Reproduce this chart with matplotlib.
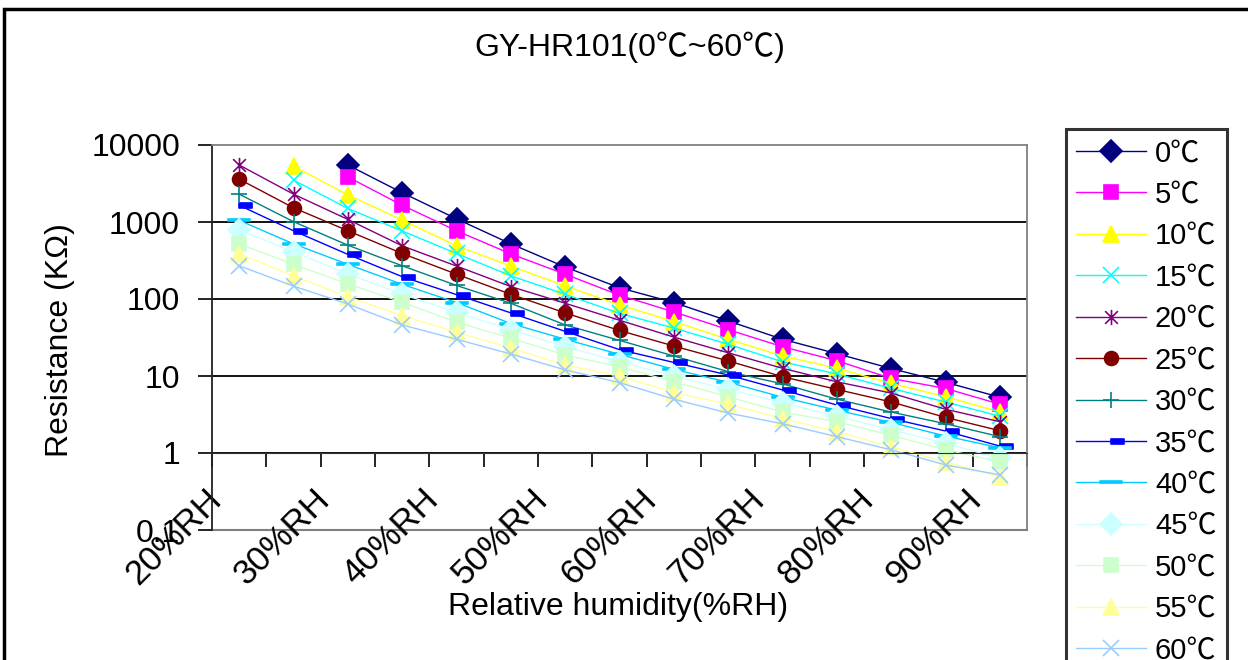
import numpy as np
import matplotlib
matplotlib.use('Agg')
import matplotlib.pyplot as plt
from matplotlib.path import Path
from matplotlib.patches import Rectangle

plt.rcParams['font.family'] = ['Liberation Sans', 'Noto Sans CJK SC', 'DejaVu Sans']

# x categories (only every 2nd label is shown on the chart)
categories = ['20%RH', '25%RH', '30%RH', '35%RH', '40%RH', '45%RH', '50%RH', '55%RH',
              '60%RH', '65%RH', '70%RH', '75%RH', '80%RH', '85%RH', '90%RH']
temps = ['0℃', '5℃', '10℃', '15℃', '20℃', '25℃', '30℃', '35℃', '40℃',
         '45℃', '50℃', '55℃', '60℃']

nan = np.nan
# resistance in KOhm
r_0 = [nan, nan, 5500, 2400, 1100, 520, 260, 140, 90, 52, 30, 19.5, 12.5, 8.3, 5.3]
r_5 = [nan, nan, 3850, 1650, 770, 385, 210, 112, 68, 40, 24, 15.8, 9.3, 6.9, 4.3]
r_10 = [nan, 5300, 2250, 1060, 490, 268, 147, 84, 51, 30, 18.2, 12.6, 8.0, 5.4, 3.4]
r_15 = [nan, 3500, 1500, 765, 390, 200, 115, 65, 42, 25.8, 15.3, 10.6, 6.9, 4.6, 3.0]
r_20 = [5500, 2300, 1080, 490, 268, 145, 88, 53, 32, 20, 12.6, 8.4, 6.0, 3.7, 2.55]
r_25 = [3600, 1530, 770, 390, 210, 115, 66, 39, 24.5, 15.7, 9.8, 6.7, 4.6, 2.9, 1.95]
r_30 = [2300, 1010, 500, 270, 150, 88, 46, 29, 18.2, 11.4, 7.9, 5.0, 3.4, 2.4, 1.63]
r_35 = [1650, 770, 380, 195, 114, 66, 38, 22, 15, 10.3, 6.6, 4.2, 2.8, 1.93, 1.23]
r_40 = [1050, 520, 282, 155, 90, 48, 30, 19.1, 12.2, 8.3, 5.3, 3.6, 2.5, 1.66, 1.17]
r_45 = [790, 410, 211, 116, 67, 40, 24, 15.3, 10, 6.7, 4.5, 3.0, 2.0, 1.34, 0.85]
r_50 = [520, 282, 157, 91, 50, 31, 18.7, 13.2, 8.4, 5.4, 3.4, 2.55, 1.7, 1.1, 0.77]
r_55 = [385, 200, 107, 61, 37, 23, 13.9, 10, 6.1, 4.3, 2.8, 1.9, 1.2, 0.77, 0.49]
r_60 = [270, 147, 86, 46, 30, 19.3, 12, 8.2, 5.0, 3.3, 2.4, 1.63, 1.1, 0.7, 0.52]
series = [r_0, r_5, r_10, r_15, r_20, r_25, r_30, r_35, r_40, r_45, r_50, r_55, r_60]

colors = ['#000080', '#FF00FF', '#FFFF00', '#00FFFF', '#800080', '#800000', '#008080',
          '#0000FF', '#00CCFF', '#CCFFFF', '#CCFFCC', '#FFFF99', '#99CCFF']

# excel-like markers
star = Path([(-1, -1), (1, 1), (-1, 1), (1, -1), (0, -1.2), (0, 1.2)],
            [Path.MOVETO, Path.LINETO, Path.MOVETO, Path.LINETO, Path.MOVETO, Path.LINETO])
short_dash = Path([(0, -0.2), (1, -0.2), (1, 0.2), (0, 0.2), (0, -0.2)],
                  [Path.MOVETO, Path.LINETO, Path.LINETO, Path.LINETO, Path.CLOSEPOLY])
long_dash = Path([(-1, -0.13), (1, -0.13), (1, 0.13), (-1, 0.13), (-1, -0.13)],
                 [Path.MOVETO, Path.LINETO, Path.LINETO, Path.LINETO, Path.CLOSEPOLY])
markers = ['D', 's', '^', 'x', star, 'o', '+', short_dash, long_dash, 'D', 's', '^', 'x']
msizes = [11, 10, 12, 11, 11, 10, 12, 18, 16, 11, 10, 12, 11]

fig = plt.figure(figsize=(12.48, 6.6), dpi=100)
ax = fig.add_axes([212 / 1248, 1 - 530 / 660, 815 / 1248, 385 / 660])

x = np.arange(len(categories))
for vals, lab, c, m, ms in zip(series, temps, colors, markers, msizes):
    ax.plot(x, vals, color=c, lw=1.0, marker=m, ms=ms, mfc=c, mec=c, mew=1.2, label=lab)

ax.set_yscale('log')
ax.set_ylim(0.1, 10000)
ax.set_xlim(-0.5, len(categories) - 0.5)

yt = [0.1, 1, 10, 100, 1000, 10000]
ax.set_yticks(yt)
ax.set_yticklabels(['0.1', '1', '10', '100', '1000', '10000'])
ax.yaxis.set_minor_locator(matplotlib.ticker.NullLocator())
ax.tick_params(axis='y', which='major', length=10, width=1.2, labelsize=23, pad=13)

for yv in [1, 10, 100, 1000]:
    ax.axhline(yv, color='black', lw=1.3, zorder=0.5)

# category axis crosses at 1
ax.spines['bottom'].set_position(('data', 1))
ax.spines['bottom'].set_color('#333333')
ax.set_xticks(np.arange(-0.5, len(categories)), [''] * (len(categories) + 1))
# rotated labels sit a little left of their category
ax.set_xticks(x[::2] - 0.3, categories[::2], minor=True)
ax.tick_params(axis='x', which='major', length=10, width=1.2, direction='out')
ax.tick_params(axis='x', which='minor', length=0, labelsize=25, pad=35)
for t in ax.get_xticklabels(minor=True):
    t.set_rotation(45)
    t.set_ha('right')
    t.set_va('baseline')
    t.set_rotation_mode('anchor')

ax.axhline(0.1, color='#808080', lw=1.5, clip_on=False, zorder=0.5)
ax.spines['top'].set_color('#808080')
ax.spines['right'].set_color('#808080')
ax.spines['left'].set_color('#222222')
for s in ['top', 'right', 'left']:
    ax.spines[s].set_linewidth(1.3)

fig.text(630 / 1248, 1 - 47 / 660, 'GY-HR101(0℃~60℃)', ha='center', va='center', fontsize=23)
fig.text(60 / 1248, 1 - 340 / 660, 'Resistance (KΩ)', ha='center', va='center',
         rotation=90, fontsize=23)
fig.text(618 / 1248, 1 - 607 / 660, 'Relative humidity(%RH)', ha='center', va='center',
         fontsize=23)

leg = fig.legend(loc='upper left', bbox_to_anchor=(1066 / 1248, 1 - 129 / 660),
                 bbox_transform=fig.transFigure, fontsize=21, frameon=True,
                 fancybox=False, handlelength=2.4, handletextpad=0.3,
                 labelspacing=0.46, borderpad=0.35, borderaxespad=0)
leg.get_frame().set_edgecolor('black')
leg.get_frame().set_linewidth(2.2)

# outer chart border (cut off at right and bottom)
fig.patches.append(Rectangle((4 / 1248, -0.05), 1.1, 1 - 9 / 660 + 0.05,
                             transform=fig.transFigure, fill=False,
                             edgecolor='black', lw=2.5))

fig.savefig('out.png', dpi=100)
